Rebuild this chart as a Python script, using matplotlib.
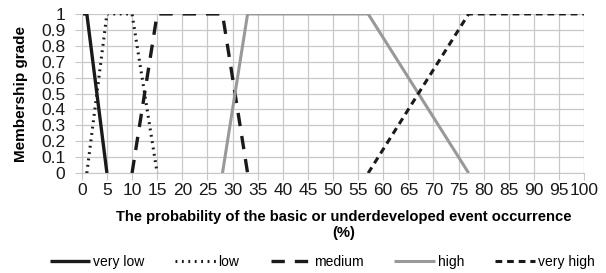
import matplotlib.pyplot as plt
from matplotlib.ticker import FuncFormatter

plt.rcParams['font.family'] = ['Liberation Sans', 'DejaVu Sans']

# membership functions (x in %, grade)
very_low_x = [0, 1, 5]
very_low_y = [1, 1, 0]
low_x = [1, 5, 10, 15]
low_y = [0, 1, 1, 0]
medium_x = [10, 15, 28, 33]
medium_y = [0, 1, 1, 0]
high_x = [28, 33, 57, 77]
high_y = [0, 1, 1, 0]
very_high_x = [57, 77, 100]
very_high_y = [0, 1, 1]

fig = plt.figure(figsize=(6.06, 2.73), dpi=100)
ax = fig.add_axes([0.135, 0.366, 0.829, 0.583])

ax.plot(very_low_x, very_low_y, color='#1a1a1a', lw=2.4, label='very low', solid_capstyle='butt')
ax.plot(low_x, low_y, color='#1a1a1a', lw=2.2, linestyle=(0, (0.6, 1.5)), label='low')
ax.plot(medium_x, medium_y, color='#1a1a1a', lw=2.4, linestyle=(0, (4, 3)), label='medium')
ax.plot(high_x, high_y, color='#999999', lw=2.2, label='high', solid_capstyle='butt')
ax.plot(very_high_x, very_high_y, color='#1a1a1a', lw=2.2, linestyle=(0, (2.2, 1.6)), label='very high')

ax.set_xlim(0, 100)
ax.set_ylim(0, 1)
ax.set_xticks(range(0, 101, 5))
ax.set_yticks([i / 10 for i in range(11)])
ax.yaxis.set_major_formatter(FuncFormatter(lambda v, p: f"{v:g}"))
ax.grid(True, color='#c8c8c8', lw=0.9)
ax.set_axisbelow(True)
for s in ['top', 'right']:
    ax.spines[s].set_visible(False)
ax.spines['left'].set_color('#c8c8c8')
ax.spines['bottom'].set_color('#c8c8c8')
ax.tick_params(axis='both', labelsize=12.5, colors='#c8c8c8', labelcolor='#1a1a1a', length=5)
ax.tick_params(axis='y', pad=7)
ax.tick_params(axis='x', pad=2)

ax.set_ylabel('Membership grade', fontsize=11, fontweight='bold')
ax.yaxis.set_label_coords(-0.108, 0.5)
ax.set_xlabel('The probability of the basic or underdeveloped event occurrence\n(%)',
              fontsize=10.6, fontweight='bold', linespacing=1.25)
ax.xaxis.set_label_coords(0.522, -0.23)
ax.xaxis.label.set_va('top')

fig.legend(loc='center', bbox_to_anchor=(0.532, 0.04), ncol=5, frameon=False,
           fontsize=10, handlelength=2.9, handletextpad=0.2, columnspacing=2.25)

fig.savefig('out.png', dpi=100)
